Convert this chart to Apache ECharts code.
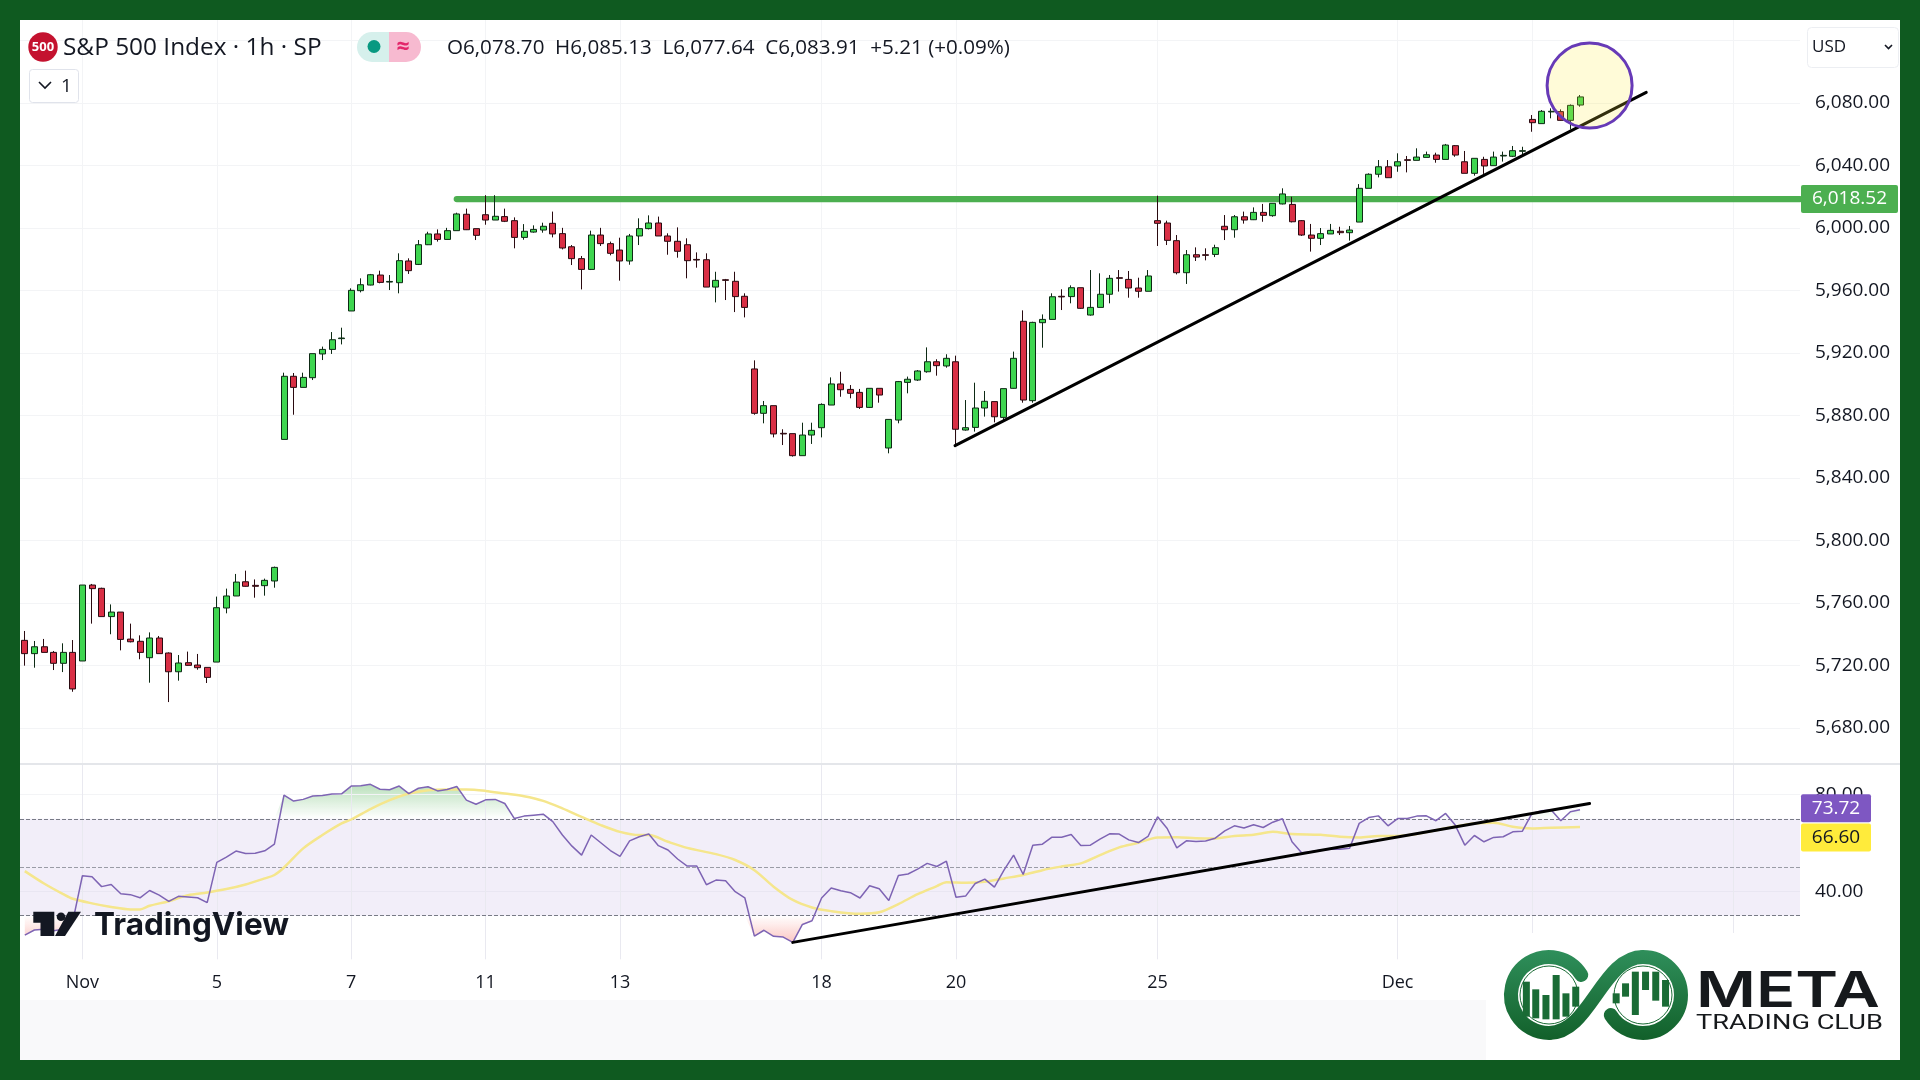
<!DOCTYPE html>
<html><head><meta charset="utf-8">
<script src="https://cdn.jsdelivr.net/npm/echarts@6/dist/echarts.min.js"></script>
<style>
html,body{margin:0;padding:0;background:#0f5a20;width:1920px;height:1080px;overflow:hidden}
#white{position:absolute;left:20px;top:20px;width:1880px;height:1040px;background:#fff}
#gray{position:absolute;left:20px;top:1000px;width:1466px;height:60px;background:#f9f9fa}
#c{position:absolute;left:0;top:0;width:1920px;height:1080px}
</style></head><body>
<div id="white"></div><div id="gray"></div><div id="c"></div>
<script>
const opens=[5736.1,5727.6,5732.0,5728.4,5721.4,5728.4,5722.9,5771.5,5769.4,5751.3,5754.2,5736.9,5735.5,5725.0,5737.6,5728.0,5716.0,5721.8,5720.3,5718.8,5722.2,5756.8,5764.5,5773.6,5771.3,5771.1,5774.1,5864.7,5905.1,5898.0,5904.2,5919.4,5922.3,5929.2,5946.9,5959.9,5963.5,5969.9,5965.4,5965.0,5978.9,5976.7,5989.3,5996.2,5992.7,5998.3,6008.8,5999.6,6008.5,6005.1,6007.3,6004.7,5994.0,5997.4,5998.7,6003.0,5996.4,5988.0,5980.4,5973.5,5995.5,5990.0,5985.9,5978.9,5994.9,5999.6,6003.2,5994.9,5991.5,5989.3,5979.9,5979.7,5962.2,5966.9,5965.9,5956.3,5909.8,5881.4,5886.3,5868.6,5868.4,5854.3,5867.5,5872.2,5886.7,5900.2,5896.7,5894.8,5885.2,5897.4,5859.2,5877.1,5901.2,5902.7,5908.0,5914.4,5911.7,5914.4,5870.7,5872.4,5884.8,5888.9,5878.8,5897.4,5940.3,5889.5,5939.4,5941.5,5956.3,5956.1,5961.8,5944.3,5949.2,5957.6,5968.2,5967.1,5961.6,5959.5,6004.7,6003.2,5991.9,5971.4,5982.9,5982.9,5983.1,6001.1,5998.9,6007.2,6005.3,6010.0,6007.9,6015.4,6015.1,6004.7,5995.5,5993.4,5996.2,5997.9,5997.0,6003.8,6025.4,6034.4,6039.2,6039.7,6043.7,6043.3,6045.2,6046.7,6043.9,6052.7,6042.4,6035.0,6043.9,6039.9,6046.1,6045.9,6049.1,6069.5,6066.8,6074.3,6074.5,6068.9,6078.7];
const closes=[5727.6,5732.0,5728.4,5721.4,5728.4,5705.0,5771.5,5769.2,5751.3,5754.2,5736.7,5735.2,5728.4,5737.6,5727.6,5716.0,5721.6,5720.1,5718.6,5712.4,5757.0,5764.5,5773.4,5770.7,5770.7,5774.5,5782.8,5905.1,5898.0,5904.4,5919.6,5922.3,5928.5,5929.6,5960.1,5963.7,5970.1,5965.2,5965.8,5979.1,5972.7,5989.3,5996.2,5992.7,5998.3,6009.0,5998.9,5995.3,6005.1,6007.5,6004.3,5994.0,5997.9,5999.1,6001.1,5996.2,5987.2,5980.4,5973.5,5995.5,5990.0,5983.8,5978.9,5994.9,5999.6,6003.2,5994.9,5991.5,5985.1,5979.1,5979.5,5962.2,5966.5,5966.5,5956.1,5949.2,5881.4,5886.3,5868.2,5868.2,5854.3,5867.5,5870.5,5887.1,5900.2,5896.5,5894.2,5885.2,5897.4,5893.1,5877.5,5901.7,5903.2,5908.5,5914.4,5911.9,5916.6,5871.2,5872.2,5884.8,5889.1,5879.2,5897.2,5916.6,5889.9,5939.6,5941.5,5956.0,5955.9,5961.8,5948.6,5949.2,5957.6,5967.8,5967.8,5961.6,5959.5,5969.3,6003.0,5992.1,5971.4,5982.9,5981.4,5982.5,5987.4,5998.9,6007.2,6005.1,6010.0,6008.1,6015.8,6021.8,6004.0,5995.5,5993.4,5996.4,5998.5,5997.0,5998.7,6025.4,6034.4,6039.2,6032.2,6042.4,6043.3,6045.4,6046.9,6043.9,6053.1,6046.7,6035.0,6044.6,6039.7,6045.4,6046.5,6049.5,6049.5,6067.4,6074.7,6074.7,6068.9,6078.5,6083.91];
const lows=[5719.9,5718.6,5728.4,5717.1,5715.8,5703.2,5722.9,5746.8,5751.3,5740.0,5729.7,5734.8,5724.0,5709.0,5727.6,5696.6,5710.3,5719.9,5717.3,5708.8,5722.2,5753.4,5764.5,5770.5,5763.4,5764.7,5769.8,5864.7,5880.5,5898.0,5902.7,5915.5,5919.4,5925.5,5946.9,5958.8,5963.3,5964.6,5960.3,5958.2,5970.6,5976.3,5989.1,5991.3,5992.7,5998.3,5998.7,5992.3,6002.1,6005.1,6003.8,5987.0,5992.5,5997.0,5997.0,5994.0,5986.3,5976.3,5960.7,5973.1,5988.5,5982.5,5966.3,5976.5,5989.1,5999.1,5994.9,5982.9,5981.0,5967.8,5974.6,5962.2,5952.4,5953.9,5946.2,5942.8,5880.5,5875.0,5866.0,5861.1,5853.7,5854.3,5861.8,5866.0,5886.7,5892.0,5891.0,5884.2,5884.8,5888.2,5855.8,5875.0,5894.2,5902.1,5907.4,5905.5,5910.6,5861.1,5870.3,5869.7,5879.3,5875.6,5877.1,5897.2,5888.2,5888.2,5923.4,5941.5,5947.5,5951.8,5948.2,5943.9,5949.2,5951.8,5959.3,5955.4,5955.4,5959.5,5988.5,5989.1,5970.3,5964.2,5978.9,5979.3,5981.4,5992.3,5993.8,6002.8,6005.1,6004.0,6007.2,6015.1,6003.6,5994.9,5984.9,5989.1,5996.2,5995.5,5991.9,6003.8,6025.4,6032.4,6032.2,6036.0,6035.6,6043.3,6045.2,6041.8,6043.9,6045.6,6035.0,6033.5,6034.6,6039.9,6042.5,6045.4,6046.7,6061.6,6066.8,6070.2,6068.7,6063.1,6077.64];
const highs=[5742.1,5735.7,5737.0,5729.3,5734.2,5736.3,5771.5,5772.2,5769.8,5759.1,5754.2,5746.8,5739.3,5741.2,5738.9,5728.4,5726.7,5728.9,5727.4,5718.8,5764.1,5769.2,5778.6,5780.7,5775.1,5775.6,5783.3,5907.4,5907.2,5907.4,5919.6,5924.1,5933.4,5936.2,5961.4,5967.8,5970.6,5972.7,5969.9,5983.8,5980.6,5992.3,5997.6,5999.1,6000.1,6009.8,6012.4,5999.6,6021.0,6021.0,6012.4,6006.8,6002.5,6001.7,6003.4,6010.5,6000.1,5989.1,5982.1,5998.3,6000.1,5991.3,5993.8,5996.2,6006.2,6008.1,6007.3,5996.6,6000.4,5993.4,5984.4,5983.8,5972.0,5967.4,5972.0,5958.2,5915.3,5889.3,5886.3,5871.2,5868.4,5875.4,5875.4,5887.8,5904.4,5908.0,5899.5,5897.0,5897.4,5897.4,5877.5,5902.1,5904.9,5909.1,5923.6,5916.0,5919.2,5918.3,5889.9,5901.0,5895.7,5888.9,5897.2,5920.9,5947.3,5940.0,5944.7,5958.2,5960.8,5963.3,5961.8,5973.1,5971.0,5969.9,5973.1,5972.5,5968.2,5973.1,6020.7,6004.7,5995.5,5985.9,5987.6,5987.0,5989.3,6008.3,6008.3,6010.5,6013.2,6015.4,6015.8,6025.4,6020.0,6005.1,6002.6,6000.0,6002.6,6000.8,6001.3,6028.1,6035.0,6043.5,6043.5,6047.8,6046.1,6051.0,6048.9,6048.2,6053.8,6053.1,6049.3,6044.6,6045.6,6048.9,6048.9,6052.5,6052.0,6072.3,6075.5,6076.6,6075.9,6079.1,6085.13];
const rsi=[22.0,24.1,24.4,23.8,24.4,27.7,46.5,46.1,42.0,42.9,39.1,38.7,37.4,40.4,38.5,35.9,38.0,37.7,37.4,35.4,52.0,54.2,56.7,55.7,55.8,56.8,59.5,79.8,77.3,78.0,79.4,79.6,80.2,80.3,83.5,83.6,84.2,82.2,82.0,83.5,80.4,82.6,83.2,81.5,82.1,83.3,77.7,76.0,77.8,78.0,76.3,70.1,71.1,71.5,71.9,68.8,63.3,58.7,55.0,63.3,60.1,56.9,54.5,60.9,62.6,63.7,58.9,57.1,53.4,50.5,50.5,42.8,44.7,44.4,39.9,37.4,21.6,24.0,21.5,21.2,19.0,26.4,27.9,37.3,41.4,40.3,39.5,37.3,42.4,41.1,36.3,46.6,47.2,49.2,51.6,50.3,52.5,37.6,38.1,43.3,45.1,41.8,48.8,55.0,47.0,59.1,59.5,62.4,62.4,63.5,59.0,59.1,61.6,63.8,63.7,61.3,60.2,62.7,70.8,66.0,58.0,60.9,60.6,60.8,62.0,65.0,67.1,66.2,67.5,66.4,68.6,70.0,60.5,56.0,56.4,57.1,57.4,57.4,57.8,68.1,70.5,71.2,67.1,70.1,70.1,71.1,71.2,69.2,72.2,67.4,59.1,63.1,60.5,62.3,62.6,64.6,64.9,72.2,73.3,73.6,69.2,72.9,73.72];
const rsiMaBars=[0,2,4,5,7,9,11,12,13,15,17,19,21,23,25,26,27,29,31,33,34,36,38,40,42,44,46,48,50,52,54,56,58,60,62,64,65,67,69,72,74,76,78,80,82,84,87,89,91,93,95,96,98,100,102,104,106,108,110,112,114,116,118,120,122,124,126,128,130,132,135,137,139,141,143,145,147,149,151,153,155,157,159,162];
const rsiMaValues=[48.4,43.3,38.9,37.0,35.1,33.6,32.6,32.6,34.1,36.0,38.5,39.6,41.0,42.9,45.4,46.8,49.9,57.8,63.3,68.1,69.7,74.0,77.7,80.4,81.8,82.1,82.1,81.5,80.4,79.3,77.4,74.3,70.8,67.4,64.6,63.3,63.3,60.5,58.0,55.4,53.0,48.8,42.0,36.5,33.4,31.9,30.8,31.4,34.8,38.9,42.2,43.8,43.6,44.0,45.4,46.8,48.8,50.3,51.6,55.0,58.2,60.1,62.3,62.4,62.0,61.9,62.9,63.4,64.6,63.7,63.4,62.6,62.3,62.9,62.9,63.7,65.3,66.8,68.1,68.4,66.7,66.0,66.3,66.6];
const levelPrice=6018.52, levelStartBar=45.0;
const priceTrendBars=[96.9,168.9], priceTrendValues=[5860.7,6086.8];
const rsiTrendBars=[80,163], rsiTrendValues=[19.0,76.3];
const circleBar=163.0, circlePrice=6091.2;
const tickBars=[6,20,34,48,62,83,97,118,143,157,178];
const labelBars=[6,20,34,48,62,83,97,118,143];
const labelTexts=['Nov','5','7','11','13','18','20','25','Dec'];
const rsiLast=73.72, rsiMaLast=66.60;

const GRID='#f3f4f6', TXT='#131722', FONT='"Open Sans"';
const xMin=-0.5, xMax=-0.5+1780/9.6;
const candles=opens.map((o,i)=>[i,o,closes[i],lows[i],highs[i]]);
const bars=rsi.map((v,i)=>[i,v]);
const vLines=tickBars.map(b=>({xAxis:b}));
const fmt=v=>v.toLocaleString('en-US',{minimumFractionDigits:2,maximumFractionDigits:2});

const tL=(x,y,text,size,extra)=>({type:'text',z:100,x,y,style:Object.assign({text,font:`${size}px ${FONT}`,fill:TXT,textVerticalAlign:'middle'},extra||{})});
const rect=(x,y,w,h,fill,extra)=>({type:'rect',z:99,shape:Object.assign({x,y,width:w,height:h},extra&&extra.shape||{}),style:Object.assign({fill},extra&&extra.style||{})});
const logoGrad=(a,b)=>({type:'linear',x:0,y:0,x2:0,y2:1,global:false,colorStops:[{offset:0,color:a},{offset:1,color:b}]});
const lb=(zx,zt,zb)=>Object.assign(rect(1280+zx/2.45,760+zt/3,7,(zb-zt)/3,'#1a6b35'),{z:101});
const deg=d=>d*Math.PI/180;
const graphic=[
 tL(63,48,'S&P 500 Index · 1h · SP',24.4),
 {type:'circle',z:99,shape:{cx:43,cy:47,r:14.7},style:{fill:'#c4122f'}},
 tL(43,47,'500',13,{fill:'#fff',textAlign:'center',font:'bold 13px '+FONT}),
 {type:'rect',z:99,shape:{x:357,y:32,width:32,height:30,r:[15,0,0,15]},style:{fill:'#d6f0ec'}},
 {type:'rect',z:99,shape:{x:389,y:32,width:32,height:30,r:[0,15,15,0]},style:{fill:'#f7bad0'}},
 {type:'circle',z:100,shape:{cx:374,cy:46.5,r:6.5},style:{fill:'#089981'}},
 tL(403,47,'≈',23,{fill:'#e3286b',textAlign:'center',font:'bold 23px '+FONT}),
 tL(447,48,'O6,078.70  H6,085.13  L6,077.64  C6,083.91  +5.21 (+0.09%)',20.6),
 {type:'rect',z:99,shape:{x:29.5,y:69.5,width:49,height:33,r:3},style:{fill:'#fff',stroke:'#e0e3eb',lineWidth:1}},
 {type:'polyline',z:100,shape:{points:[[39,82],[45,88],[51,82]]},style:{stroke:TXT,lineWidth:1.6,fill:null}},
 tL(61,87,'1',19),
 {type:'rect',z:99,shape:{x:1807.5,y:27.5,width:91,height:40,r:4},style:{fill:'#fff',stroke:'#eceef2',lineWidth:1}},
 tL(1812,47,'USD',17),
 {type:'polyline',z:100,shape:{points:[[1885,45],[1888.5,48.5],[1892,45]]},style:{stroke:TXT,lineWidth:1.6,fill:null}},
 {type:'line',z:99,shape:{x1:20,y1:764,x2:1900,y2:764},style:{stroke:'#e4e6ea',lineWidth:2}},
 /* TradingView mark */
 {type:'polygon',z:100,shape:{points:[[33.3,911.7],[54.3,911.7],[54.3,936],[40.5,936],[40.5,922.7],[33.3,922.7]]},style:{fill:TXT}},
 {type:'circle',z:100,shape:{cx:61,cy:916.7,r:4.3},style:{fill:TXT}},
 {type:'polygon',z:100,shape:{points:[[68.3,911.7],[81,911.7],[65,936],[55,936]]},style:{fill:TXT}},
 tL(94,926,'TradingView',31.5,{font:'700 31.5px Inter',fill:TXT}),
 /* META logo */
 rect(1486,933,414,127,'#ffffff'),
 {type:'arc',z:100,shape:{cx:1549,cy:995,r:38,startAngle:deg(-32),endAngle:deg(-270),clockwise:false},style:{stroke:logoGrad('#2f8f5b','#12602a'),lineWidth:14,fill:null,lineCap:'round'}},
 {type:'bezierCurve',z:100,shape:{x1:1549,y1:1033,x2:1643,y2:957,cpx1:1590,cpy1:1033,cpx2:1602,cpy2:957},style:{stroke:logoGrad('#2f8f5b','#12602a'),lineWidth:14,fill:null}},
 {type:'arc',z:100,shape:{cx:1643,cy:995,r:38,startAngle:deg(-90),endAngle:deg(148),clockwise:true},style:{stroke:logoGrad('#2f8f5b','#12602a'),lineWidth:14,fill:null,lineCap:'round'}},
 {type:'circle',z:100,shape:{cx:1549,cy:995,r:29},style:{stroke:'#1a6b35',lineWidth:1,fill:null}},
 {type:'circle',z:100,shape:{cx:1643,cy:995,r:29},style:{stroke:'#1a6b35',lineWidth:1,fill:null}},
 lb(595,665,770),lb(618,688,775),lb(643,705,778),lb(668,645,778),lb(692,700,770),lb(716,680,740),
 lb(815,700,730),lb(838,670,710),lb(862,635,765),lb(887,635,690),lb(912,635,722),lb(936,660,740),
 {type:'text',z:100,x:1696,y:992,scaleX:1.3,style:{text:'META',font:'600 50px Inter',fill:'#16191c',textVerticalAlign:'middle'}},
 {type:'text',z:100,x:1696,y:1024,scaleX:1.36,style:{text:'TRADING CLUB',font:'400 20px Roboto',fill:'#16191c',textVerticalAlign:'middle'}}
];

const tag=(grid,val,text,bg,fg,w,h,off)=>({type:'scatter',xAxisIndex:grid,yAxisIndex:grid,z:30,clip:false,silent:true,symbolSize:0,itemStyle:{opacity:1},
 data:[[xMax,val]],label:{show:true,opacity:1,position:'right',distance:1,offset:[off[0]+w/2,off[1]],formatter:text,width:w,height:h,lineHeight:h,align:'center',backgroundColor:bg,color:fg,fontFamily:FONT,fontSize:19,fontWeight:500,borderRadius:2}});

const option={
 animation:false,backgroundColor:'transparent',textStyle:{fontFamily:FONT},
 grid:[{left:20,top:20,width:1780,height:770.5},{left:20,top:764,width:1780,height:195.35}],
 xAxis:[0,1].map(i=>({type:'value',gridIndex:i,min:xMin,max:xMax,axisLine:{show:false},axisTick:{show:false},splitLine:{show:false},
   axisLabel:i===0?{show:false}:{show:true,customValues:labelBars,margin:15,color:TXT,fontSize:18,fontFamily:FONT,hideOverlap:false,formatter:v=>labelTexts[labelBars.indexOf(v)]||''}})),
 yAxis:[
  {type:'value',gridIndex:0,position:'right',min:5640,max:6133.12,interval:40,scale:false,axisLine:{show:false},axisTick:{show:false},
   splitLine:{show:true,showMinLine:false,showMaxLine:false,lineStyle:{color:GRID,width:1}},
   axisLabel:{margin:15,color:TXT,fontSize:19,fontFamily:FONT,formatter:v=>(v<=5640||v>=6120)?'':fmt(v)}},
  {type:'value',gridIndex:1,position:'right',min:12,max:92.6,interval:4,axisLine:{show:false},axisTick:{show:false},splitLine:{show:false},
   axisLabel:{margin:15,color:TXT,fontSize:19,fontFamily:FONT,formatter:v=>(v===40||v===80)?fmt(v):''}}
 ],
 series:[
  {type:'line',xAxisIndex:0,yAxisIndex:0,z:1,silent:true,showSymbol:false,lineStyle:{width:6.3,color:'#4caf50',cap:'round'},
   data:[[levelStartBar,levelPrice],[xMax,levelPrice]],
   markLine:{z:0,silent:true,symbol:'none',label:{show:false},lineStyle:{color:GRID,type:'solid',width:1},data:vLines}},
  {type:'candlestick',xAxisIndex:0,yAxisIndex:0,z:3,silent:true,barWidth:6.5,data:candles,
   itemStyle:{color:'#3ed650',color0:'#d92f45',borderColor:'#0d2a14',borderColor0:'#2a0a10',borderWidth:1}},
  {type:'line',xAxisIndex:0,yAxisIndex:0,z:6,silent:true,showSymbol:false,lineStyle:{width:3,color:'#000',cap:'round'},
   data:priceTrendBars.map((b,i)=>[b,priceTrendValues[i]])},
  {type:'scatter',xAxisIndex:0,yAxisIndex:0,z:7,silent:true,clip:false,symbol:'circle',symbolSize:85,data:[[circleBar,circlePrice]],
   itemStyle:{color:'rgba(255,235,59,0.2)',borderColor:'#673ab7',borderWidth:3,opacity:1}},

  {type:'line',xAxisIndex:1,yAxisIndex:1,z:1,silent:true,showSymbol:false,lineStyle:{width:0},data:[],
   markArea:{z:1,silent:true,itemStyle:{color:'rgba(126,87,194,0.1)'},data:[[{yAxis:30},{yAxis:70}]]}},
  {type:'line',xAxisIndex:1,yAxisIndex:1,z:2,silent:true,showSymbol:false,lineStyle:{width:0},
   areaStyle:{origin:70,opacity:1,color:{type:'linear',x:0,y:0,x2:0,y2:1,colorStops:[{offset:0,color:'rgba(76,175,80,0.38)'},{offset:1,color:'rgba(76,175,80,0)'}]}},
   data:bars.map(p=>[p[0],Math.max(p[1],70)])},
  {type:'line',xAxisIndex:1,yAxisIndex:1,z:2,silent:true,showSymbol:false,lineStyle:{width:0},
   areaStyle:{origin:30,opacity:1,color:{type:'linear',x:0,y:0,x2:0,y2:1,colorStops:[{offset:0,color:'rgba(244,67,54,0)'},{offset:1,color:'rgba(244,67,54,0.3)'}]}},
   data:bars.map(p=>[p[0],Math.min(p[1],30)])},
  {type:'line',xAxisIndex:1,yAxisIndex:1,z:3,silent:true,showSymbol:false,lineStyle:{width:0},data:[],
   markLine:{z:3,silent:true,symbol:'none',label:{show:false},data:[
     {yAxis:80,lineStyle:{color:GRID,type:'solid',width:1}},{yAxis:40,lineStyle:{color:'#e9e6f2',type:'solid',width:1}},
     ...vLines.map(v=>Object.assign({lineStyle:{color:'#e9e9f0',type:'solid',width:1}},v)),
     {yAxis:70,lineStyle:{color:'#787b86',type:'dashed',width:1}},{yAxis:50,lineStyle:{color:'#9a9ca6',type:'dashed',width:1}},{yAxis:30,lineStyle:{color:'#787b86',type:'dashed',width:1}}]}},
  {type:'line',xAxisIndex:1,yAxisIndex:1,z:4,silent:true,showSymbol:false,smooth:0.3,lineStyle:{width:2.5,color:'#f5e68c'},
   data:rsiMaBars.map((b,i)=>[b,rsiMaValues[i]])},
  {type:'line',xAxisIndex:1,yAxisIndex:1,z:5,silent:true,showSymbol:false,lineStyle:{width:1.5,color:'#7e64b4'},data:bars},
  {type:'line',xAxisIndex:1,yAxisIndex:1,z:6,silent:true,showSymbol:false,lineStyle:{width:3,color:'#000',cap:'round'},
   data:rsiTrendBars.map((b,i)=>[b,rsiTrendValues[i]])},
  tag(0,levelPrice,fmt(levelPrice),'#4caf50','#fff',97,28,[0,0]),
  tag(1,rsiLast,fmt(rsiLast),'#7e57c2','#fff',70,28,[0,-1.5]),
  tag(1,rsiMaLast,fmt(rsiMaLast),'#ffeb3b',TXT,70,28,[0,10.5])
 ],
 graphic:{elements:graphic}
};
echarts.init(document.getElementById('c'),null,{renderer:'canvas'}).setOption(option);
</script></body></html>
